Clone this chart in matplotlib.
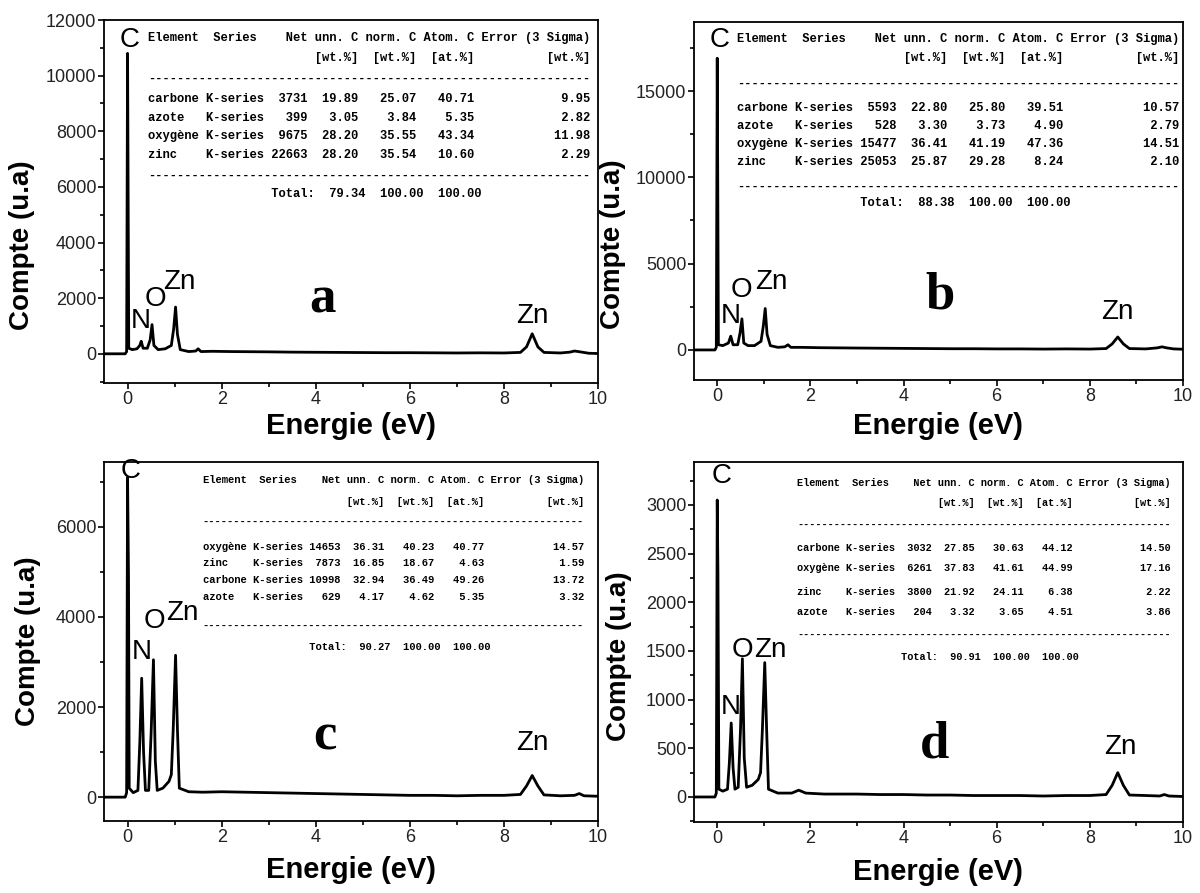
import matplotlib
matplotlib.use('Agg')
import matplotlib.pyplot as plt
from matplotlib.ticker import MultipleLocator

plt.rcParams['font.family'] = ['Liberation Sans', 'DejaVu Sans']

# EDX spectra (energy in eV, counts)
energy_a = [-0.5, -0.05, -0.02, 0.0, 0.025, 0.1, 0.2, 0.26, 0.29, 0.33, 0.42, 0.48, 0.52, 0.56,
            0.65, 0.8, 0.93, 0.98, 1.02, 1.06, 1.12, 1.3, 1.45, 1.5, 1.56, 1.8, 2.2, 2.6, 3.0,
            3.5, 4.0, 4.5, 5.0, 5.5, 6.0, 6.5, 7.0, 7.5, 8.0, 8.35, 8.48, 8.6, 8.72, 8.85, 9.2,
            9.4, 9.5, 9.62, 9.8, 10.0]
counts_a = [0, 0, 80, 10800, 200, 150, 180, 300, 450, 200, 200, 500, 1050, 300,
            150, 180, 300, 900, 1680, 700, 150, 80, 100, 180, 80, 90, 80, 75, 70,
            60, 55, 50, 45, 40, 40, 35, 30, 35, 30, 50, 250, 720, 250, 50, 30,
            60, 100, 70, 20, 10]

energy_b = [-0.5, -0.05, -0.02, 0.0, 0.025, 0.12, 0.24, 0.29, 0.34, 0.44, 0.49, 0.53, 0.57,
            0.66, 0.8, 0.94, 0.99, 1.03, 1.07, 1.14, 1.3, 1.45, 1.52, 1.58, 1.8, 2.2, 2.6,
            3.0, 3.5, 4.0, 4.5, 5.0, 5.5, 6.0, 6.5, 7.0, 7.5, 8.0, 8.35, 8.48, 8.6, 8.72,
            8.85, 9.2, 9.45, 9.55, 9.65, 9.8, 10.0]
counts_b = [0, 0, 150, 16900, 300, 250, 400, 800, 300, 300, 1000, 1800, 400,
            250, 250, 500, 1400, 2400, 900, 250, 150, 180, 300, 150, 150, 130, 120,
            110, 100, 90, 80, 70, 70, 60, 60, 50, 60, 50, 80, 350, 750, 350,
            80, 60, 120, 180, 120, 60, 40]

energy_c = [-0.5, -0.05, -0.02, 0.0, 0.02, 0.035, 0.12, 0.22, 0.26, 0.3, 0.34, 0.38, 0.45,
            0.5, 0.55, 0.59, 0.63, 0.75, 0.88, 0.93, 0.97, 1.02, 1.06, 1.1, 1.3, 1.6, 2.0,
            2.5, 3.0, 3.5, 4.0, 4.5, 5.0, 5.5, 6.0, 6.5, 7.0, 7.5, 8.0, 8.35, 8.48, 8.6,
            8.72, 8.85, 9.2, 9.5, 9.6, 9.7, 10.0]
counts_c = [0, 0, 100, 7100, 4900, 200, 100, 150, 1200, 2640, 1000, 150, 150,
            1400, 3050, 800, 150, 200, 350, 500, 1500, 3150, 1500, 200, 120, 110, 120,
            110, 100, 90, 80, 70, 60, 50, 40, 40, 30, 40, 40, 60, 250, 480,
            250, 50, 30, 40, 80, 30, 20]

energy_d = [-0.5, -0.05, -0.02, 0.0, 0.015, 0.035, 0.12, 0.22, 0.26, 0.3, 0.34, 0.38, 0.45,
            0.5, 0.54, 0.58, 0.63, 0.75, 0.88, 0.93, 0.97, 1.02, 1.06, 1.1, 1.3, 1.6, 1.75,
            1.9, 2.3, 3.0, 3.5, 4.0, 4.5, 5.0, 5.5, 6.0, 6.5, 7.0, 7.5, 8.0, 8.35, 8.48,
            8.6, 8.72, 8.85, 9.2, 9.5, 9.6, 9.7, 10.0]
counts_d = [0, 0, 40, 3050, 2300, 80, 60, 80, 350, 760, 300, 80, 100,
            700, 1420, 400, 100, 120, 180, 250, 700, 1380, 700, 80, 40, 40, 70,
            40, 30, 30, 25, 25, 20, 20, 15, 15, 15, 10, 15, 15, 25, 120,
            250, 120, 20, 15, 10, 25, 10, 5]

# quantification tables: element, net, unn. C, norm. C, atom. C, error
table_a = [("carbone", 3731, "19.89", "25.07", "40.71", "9.95"),
           ("azote", 399, "3.05", "3.84", "5.35", "2.82"),
           ("oxygène", 9675, "28.20", "35.55", "43.34", "11.98"),
           ("zinc", 22663, "28.20", "35.54", "10.60", "2.29")]
total_a = ("79.34", "100.00", "100.00")

table_b = [("carbone", 5593, "22.80", "25.80", "39.51", "10.57"),
           ("azote", 528, "3.30", "3.73", "4.90", "2.79"),
           ("oxygène", 15477, "36.41", "41.19", "47.36", "14.51"),
           ("zinc", 25053, "25.87", "29.28", "8.24", "2.10")]
total_b = ("88.38", "100.00", "100.00")

table_c = [("oxygène", 14653, "36.31", "40.23", "40.77", "14.57"),
           ("zinc", 7873, "16.85", "18.67", "4.63", "1.59"),
           ("carbone", 10998, "32.94", "36.49", "49.26", "13.72"),
           ("azote", 629, "4.17", "4.62", "5.35", "3.32")]
total_c = ("90.27", "100.00", "100.00")

table_d = [("carbone", 3032, "27.85", "30.63", "44.12", "14.50"),
           ("oxygène", 6261, "37.83", "41.61", "44.99", "17.16"),
           ("zinc", 3800, "21.92", "24.11", "6.38", "2.22"),
           ("azote", 204, "3.32", "3.65", "4.51", "3.86")]
total_d = ("90.91", "100.00", "100.00")


def table_lines(rows, total):
    header = f"{'Element':<9}{'Series':<7}{'Net':>6}{'unn. C':>7}{'norm. C':>8}{'Atom. C':>8}{'Error (3 Sigma)':>16}"
    units = f"{'':<16}{'':>6}{'[wt.%]':>7}{'[wt.%]':>8}{'[at.%]':>8}{'[wt.%]':>16}"
    dash = '-' * 61
    body = [f"{r[0]:<8}{'K-series':<8}{r[1]:>6}{r[2]:>7}{r[3]:>8}{r[4]:>8}{r[5]:>16}" for r in rows]
    tot = f"{'':<17}{'Total:':>6}{total[0]:>7}{total[1]:>8}{total[2]:>8}"
    return [header, units, dash] + body + [dash, tot]


def draw_panel(rect, energy, counts, ylim, major, minor, rows, total,
               tx, ty, tsize, labels, letter, letter_pos, ylab_pos, xlab_y):
    ax = fig.add_axes(rect)
    ax.plot(energy, counts, color='black', lw=2.0)
    ax.set_xlim(-0.5, 10)
    ax.set_ylim(*ylim)
    ax.xaxis.set_major_locator(MultipleLocator(2))
    ax.xaxis.set_minor_locator(MultipleLocator(1))
    ax.yaxis.set_major_locator(MultipleLocator(major))
    ax.yaxis.set_minor_locator(MultipleLocator(minor))
    ax.tick_params(which='both', direction='out', width=1.2, labelsize=13, pad=1,
                   labelcolor='#222222', top=False, right=False)
    ax.tick_params(which='major', length=4.5)
    ax.tick_params(which='minor', length=3)
    for s in ax.spines.values():
        s.set_linewidth(1.3)
    ax.set_xlabel('Energie (eV)', fontsize=21, fontweight='bold', va='center')
    ax.xaxis.set_label_coords(0.5, xlab_y)
    ax.set_ylabel('Compte (u.a)', fontsize=20, fontweight='bold', va='center')
    ax.yaxis.set_label_coords(*ylab_pos)

    for line, y in zip(table_lines(rows, total), ty):
        ax.text(tx, y, line, transform=ax.transAxes, family='Liberation Mono',
                fontweight='bold', fontsize=tsize, ha='left', va='center')

    for txt, x, y in labels:
        ax.text(x, y, txt, fontsize=20, ha='center', va='center')

    ax.text(letter_pos[0], letter_pos[1], letter, transform=ax.transAxes,
            family='Liberation Serif', fontweight='bold', fontsize=38,
            ha='center', va='center')
    return ax


fig = plt.figure(figsize=(12, 8.93), dpi=100)

draw_panel([0.0867, 0.5711, 0.4117, 0.4065], energy_a, counts_a, (-1050, 12000), 2000, 1000,
           table_a, total_a, 0.089,
           [0.950, 0.895, 0.837, 0.782, 0.731, 0.680, 0.629, 0.570, 0.521], 8.7,
           [('C', 0.04, 11280), ('N', 0.28, 1190), ('O', 0.59, 1980), ('Zn', 1.1, 2590),
            ('Zn', 8.6, 1370)],
           'a', (0.442, 0.229), (-0.166, 0.38), -0.118)

draw_panel([0.5783, 0.5745, 0.4075, 0.4009], energy_b, counts_b, (-1740, 19000), 5000, 2500,
           table_b, total_b, 0.088,
           [0.953, 0.899, 0.827, 0.760, 0.709, 0.659, 0.609, 0.539, 0.494], 8.7,
           [('C', 0.06, 17960), ('N', 0.28, 1950), ('O', 0.52, 3500), ('Zn', 1.17, 3950),
            ('Zn', 8.6, 2200)],
           'b', (0.503, 0.237), (-0.166, 0.38), -0.128)

draw_panel([0.0867, 0.0806, 0.4117, 0.4020], energy_c, counts_c, (-530, 7440), 2000, 1000,
           table_c, total_c, 0.200,
           [0.950, 0.889, 0.833, 0.763, 0.719, 0.671, 0.624, 0.543, 0.485], 7.6,
           [('C', 0.06, 7230), ('N', 0.3, 3230), ('O', 0.57, 3900), ('Zn', 1.17, 4090),
            ('Zn', 8.6, 1200)],
           'c', (0.447, 0.235), (-0.154, 0.5), -0.136)

draw_panel([0.5783, 0.0795, 0.4075, 0.4031], energy_d, counts_d, (-257, 3440), 500, 250,
           table_d, total_d, 0.211,
           [0.942, 0.886, 0.825, 0.761, 0.706, 0.639, 0.583, 0.519, 0.458], 7.4,
           [('C', 0.09, 3300), ('N', 0.30, 924), ('O', 0.55, 1510), ('Zn', 1.14, 1510),
            ('Zn', 8.65, 513)],
           'd', (0.493, 0.214), (-0.153, 0.46), -0.139)

fig.savefig('out.png', dpi=100)
